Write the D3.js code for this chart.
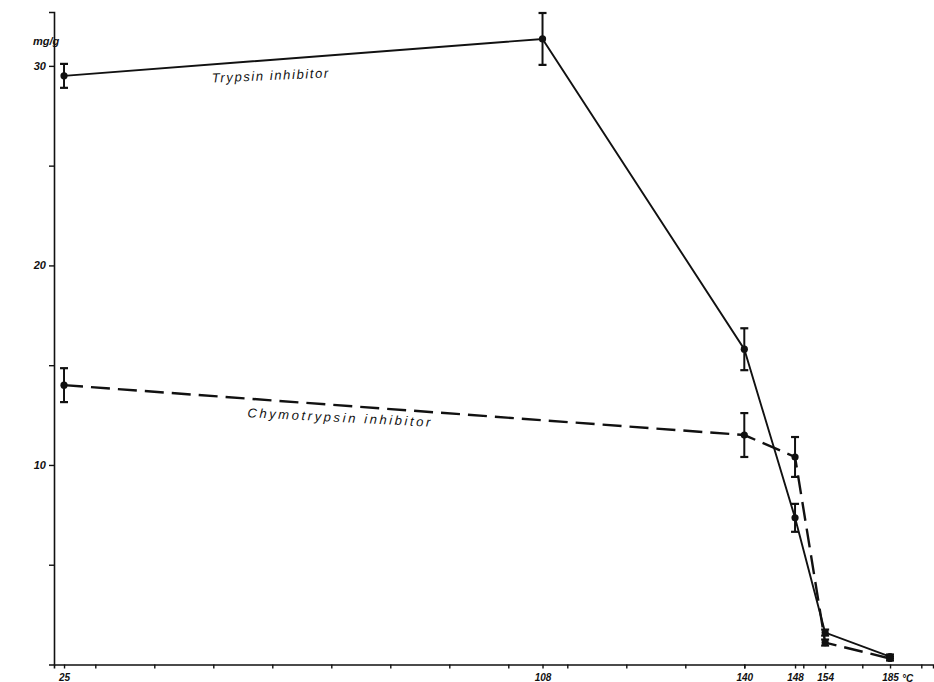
<!DOCTYPE html>
<html>
<head>
<meta charset="utf-8">
<script src="https://cdn.jsdelivr.net/npm/d3@7"></script>
<style>
  html, body { margin: 0; padding: 0; background: #fff; }
  svg { display: block; }
  text { font-family: "Liberation Sans", "DejaVu Sans", sans-serif; fill: #111; }
</style>
</head>
<body>
<script>
// ---- data ----
const tempLabels   = ["25", "108", "140", "148", "154", "185"];      // °C at each sample
const samplePos    = [0.47, 8.58, 12.0, 12.86, 13.37, 14.47];         // position along the x axis (tick units)
const regularTicks = [1, 2, 3, 4, 5, 6, 7, 8, 9, 10, 11, 12, 13, 14, 15];
const trypsin      = [29.5, 31.35, 15.8, 7.35, 1.6, 0.4];
const trypsinErr   = [0.6, 1.3, 1.05, 0.7, 0.15, 0.1];
const chymo        = [14.0, null, 11.5, 10.4, 1.1, 0.3];
const chymoErr     = [0.85, null, 1.1, 1.0, 0.15, 0.1];
const yTicksMajor  = [10, 20, 30];
const yTicksMinor  = [5, 15, 25];

const W = 934, H = 682;
const svg = d3.select("body").append("svg").attr("width", W).attr("height", H);

const x = d3.scaleLinear().domain([0.3, 15.2]).range([54, 54 + 14.9 * 59]);
const y = d3.scaleLinear().domain([0, 32.7]).range([664.5, 12]);

// axes
const gx = svg.append("g").attr("transform", `translate(0,${y(0)})`);
gx.call(d3.axisBottom(x).tickValues(regularTicks).tickSize(4).tickFormat(""));
const gx2 = svg.append("g").attr("transform", `translate(0,${y(0)})`);
gx2.call(d3.axisBottom(x).tickValues(samplePos).tickSize(4).tickPadding(5)
  .tickFormat((d, i) => tempLabels[i]));
gx2.select(".domain").remove();
gx2.selectAll("text").attr("font-size", 10).attr("font-style", "italic").attr("font-weight", "bold");
svg.append("text").attr("x", x(samplePos[5]) + 12).attr("y", y(0) + 17)
  .attr("font-size", 10).attr("font-style", "italic").attr("font-weight", "bold").text("°C");

const gy = svg.append("g").attr("transform", `translate(${x(0.3)},0)`);
gy.call(d3.axisLeft(y).tickValues(yTicksMajor.concat(yTicksMinor)).tickSize(5).tickPadding(3)
  .tickFormat(d => yTicksMajor.includes(d) ? d : ""));
gy.selectAll("text").attr("font-size", 11).attr("font-style", "italic").attr("font-weight", "bold");

[gx, gy].forEach(g => {
  g.select(".domain").attr("stroke", "#111").attr("stroke-width", 1.6);
});
svg.selectAll(".tick line").attr("stroke", "#111").attr("stroke-width", 1.4);

svg.append("text").attr("x", 33).attr("y", 45).attr("font-size", 11)
  .attr("font-style", "italic").attr("font-weight", "bold").text("mg/g");

// series
function series(vals, errs, dashed) {
  const pts = vals.map((v, i) => ({ x: samplePos[i], v, e: errs[i] })).filter(p => p.v !== null);
  const line = d3.line().x(p => x(p.x)).y(p => y(p.v));
  svg.append("path").datum(pts).attr("d", line).attr("fill", "none")
    .attr("stroke", "#111").attr("stroke-width", dashed ? 2.4 : 1.9)
    .attr("stroke-dasharray", dashed ? "19,8" : null);
  const g = svg.append("g");
  pts.forEach(p => {
    g.append("line").attr("x1", x(p.x)).attr("x2", x(p.x))
      .attr("y1", y(p.v + p.e)).attr("y2", y(p.v - p.e)).attr("stroke", "#111").attr("stroke-width", 2);
    [p.v + p.e, p.v - p.e].forEach(c => g.append("line")
      .attr("x1", x(p.x) - 4).attr("x2", x(p.x) + 4).attr("y1", y(c)).attr("y2", y(c))
      .attr("stroke", "#111").attr("stroke-width", 2.2));
    g.append("circle").attr("cx", x(p.x)).attr("cy", y(p.v)).attr("r", 3.6).attr("fill", "#111");
  });
}
series(trypsin, trypsinErr, false);
series(chymo, chymoErr, true);

// labels
svg.append("text").attr("transform", `translate(271,80) rotate(-2.5)`)
  .attr("text-anchor", "middle").attr("font-size", 13).attr("font-style", "italic")
  .attr("letter-spacing", 1.6).text("Trypsin inhibitor");
svg.append("text").attr("transform", `translate(340,422) rotate(3)`)
  .attr("text-anchor", "middle").attr("font-size", 13).attr("font-style", "italic")
  .attr("letter-spacing", 2.6).text("Chymotrypsin inhibitor");
</script>
</body>
</html>
